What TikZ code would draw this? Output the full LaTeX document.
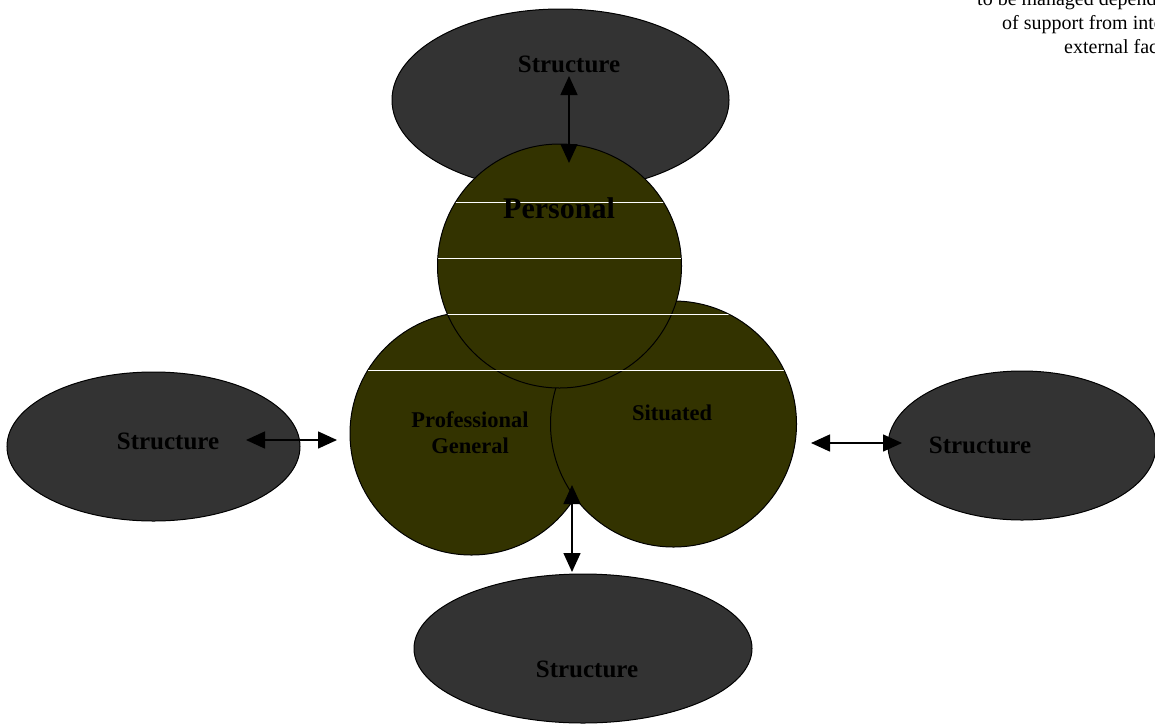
\documentclass[tikz,border=0pt]{standalone}
\usepackage{fontspec}
\setmainfont{Liberation Serif}
\usetikzlibrary{arrows.meta,shapes.geometric}
\definecolor{ellfill}{HTML}{333333}
\definecolor{circfill}{HTML}{333300}
\begin{document}
\begin{tikzpicture}[x=1pt,y=-1pt,
  structell/.style={ellipse, draw=black, line width=1pt, fill=ellfill, inner sep=0pt},
  domaincirc/.style={circle, draw=black, line width=1pt, fill=circfill, inner sep=0pt},
  lbl/.style={font=\bfseries\fontsize{25}{29}\selectfont, text=black, inner sep=0pt, anchor=base},
  dlbl/.style={font=\bfseries\fontsize{22.5}{26}\selectfont, text=black, align=center, inner sep=0pt, anchor=base},
  link/.style={line width=1.5pt, {Triangle[length=19pt,width=17pt]}-{Triangle[length=19pt,width=17pt]}},
  note/.style={font=\fontsize{20}{23}\selectfont, anchor=base west, inner sep=0pt},
  hatch/.style={draw=white, line width=1pt}
]
\useasboundingbox (0,0) rectangle (1155,723);

% structure ellipses
\node[structell, minimum width=337pt, minimum height=182pt] (stop) at (560.5,100) {};
\node[structell, minimum width=293pt, minimum height=149pt] (sleft) at (153.5,446.5) {};
\node[structell, minimum width=268pt, minimum height=149pt] (sright) at (1022,445.5) {};
\node[structell, minimum width=338pt, minimum height=149pt] (sbottom) at (583,648.5) {};

% domain circles
\node[domaincirc, minimum size=243pt] (prof) at (471.5,433.5) {};
\node[domaincirc, minimum size=246pt] (sit) at (673.5,424) {};
\node[domaincirc, minimum size=244pt] (pers) at (559.5,266) {};

% white horizontal lines inside the circles
\begin{scope}
  \clip (prof.center) circle[radius=121pt] (sit.center) circle[radius=122.5pt] (pers.center) circle[radius=121.5pt];
  \foreach \yy in {202,258,314,370} {
    \draw[hatch] (330,\yy) -- (810,\yy);
  }
\end{scope}

% labels
\node[lbl] (ttop) at (569,72) {Structure};
\node[lbl] (tleft) at (168,449) {Structure};
\node[lbl] (tright) at (980,453) {Structure};
\node[lbl] (tbottom) at (587,677) {Structure};
\node[lbl, font=\bfseries\fontsize{30}{34}\selectfont] (tpers) at (559,218) {Personal};
\node[dlbl] (tprof) at (470,453) {Professional\\General};
\node[dlbl] (tsit) at (672,420) {Situated};

% note text (cut at the right edge)
\node[note] (n1) at (977,5) {to be managed depend};
\node[note] (n2) at (1002,29) {of support from inte};
\node[note] (n3) at (1064,53) {external fac};

% arrows
\coordinate (a1) at (569,76);
\coordinate (a2) at (569,163);
\coordinate (b1) at (246,440);
\coordinate (b2) at (337,440);
\coordinate (c1) at (811,443);
\coordinate (c2) at (902,443);
\coordinate (d1) at (572,485);
\coordinate (d2) at (572,572);
\draw[link] (a1) -- (a2);
\draw[link] (b1) -- (b2);
\draw[link] (c1) -- (c2);
\draw[link] (d1) -- (d2);
\end{tikzpicture}
\end{document}
